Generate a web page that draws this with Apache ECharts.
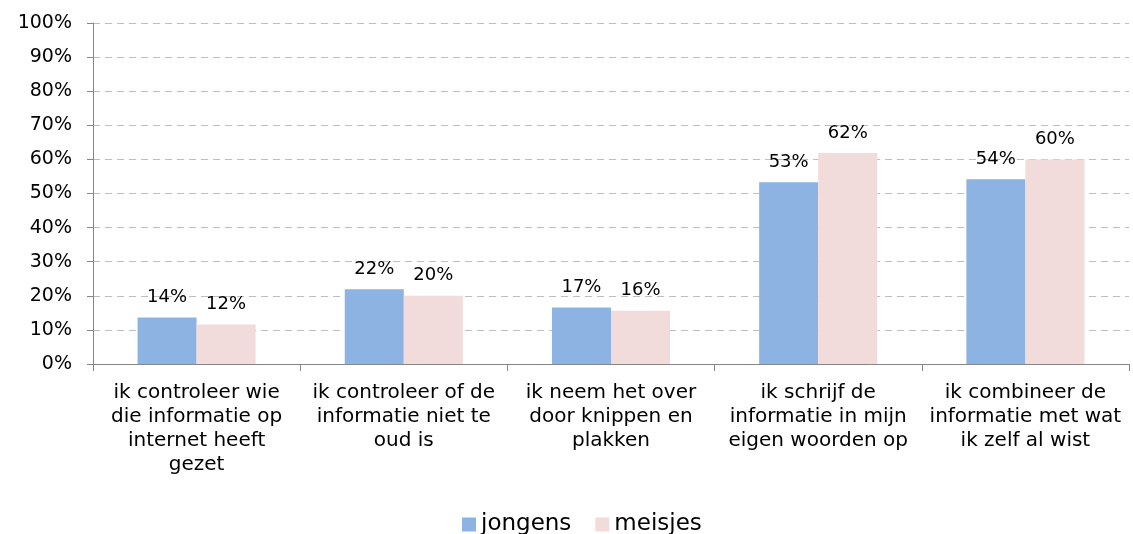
<!DOCTYPE html>
<html>
<head>
    <meta charset="utf-8">
    <title>ECharts</title>
    <script src="https://cdn.jsdelivr.net/npm/echarts@6/dist/echarts.min.js"></script>
    <style>
        html, body { margin: 0; padding: 0; background: #fff; }
    </style>
</head>
<body>
    <div id="main" style="width: 1133px;height:534px;"></div>
    <script type="text/javascript">
        // categorieën (met handmatige regelafbreking zoals in het origineel)
        var categories = [
            'ik controleer wie\ndie informatie op\ninternet heeft\ngezet',
            'ik controleer of de\ninformatie niet te\noud is',
            'ik neem het over\ndoor knippen en\nplakken',
            'ik schrijf de\ninformatie in mijn\neigen woorden op',
            'ik combineer de\ninformatie met wat\nik zelf al wist'
        ];
        var jongens = [13.6, 21.9, 16.6, 53.3, 54.2];
        var meisjes = [11.6, 20.0, 15.6, 61.9, 60.0];

        var font = 'DejaVu Sans, Verdana, sans-serif';

        var myChart = echarts.init(document.getElementById('main'));

        var barLabel = {
            show: true,
            position: 'top',
            distance: 11,
            color: '#000',
            fontFamily: font,
            fontSize: 18,
            formatter: function (p) {
                return Math.round(p.value) + '%';
            }
        };

        var option = {
            animation: false,
            grid: {
                left: 93,
                right: 4,
                top: 23,
                bottom: 170
            },
            legend: {
                top: 508,
                left: 457,
                itemWidth: 14,
                itemHeight: 14,
                itemGap: 24,
                icon: 'rect',
                textStyle: {
                    fontFamily: font,
                    fontSize: 23,
                    color: '#000'
                },
                data: ['jongens', 'meisjes']
            },
            xAxis: {
                type: 'category',
                data: categories,
                axisLine: { lineStyle: { color: '#868686', width: 1 } },
                axisTick: { show: true, length: 7, alignWithLabel: false, lineStyle: { color: '#868686' } },
                axisLabel: {
                    interval: 0,
                    margin: 17,
                    color: '#000',
                    fontFamily: font,
                    fontSize: 20,
                    lineHeight: 24
                }
            },
            yAxis: {
                type: 'value',
                min: 0,
                max: 100,
                interval: 10,
                axisLine: { show: true, lineStyle: { color: '#868686', width: 1 } },
                axisTick: { show: true, length: 6, lineStyle: { color: '#868686' } },
                axisLabel: {
                    margin: 21,
                    color: '#000',
                    fontFamily: font,
                    fontSize: 19,
                    formatter: '{value}%'
                },
                splitLine: {
                    lineStyle: { color: '#bfbfbf', type: [7, 5], width: 1 }
                }
            },
            series: [{
                name: 'jongens',
                type: 'bar',
                barGap: '0%',
                barCategoryGap: '43%',
                itemStyle: { color: '#8db3e2' },
                label: barLabel,
                data: jongens
            }, {
                name: 'meisjes',
                type: 'bar',
                itemStyle: { color: '#f2dcdb' },
                label: barLabel,
                data: meisjes
            }]
        };

        myChart.setOption(option);
    </script>
</body>
</html>
